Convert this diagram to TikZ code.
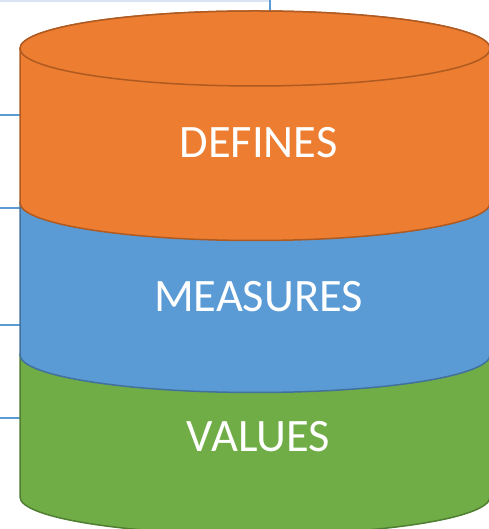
\documentclass[tikz,border=0pt]{standalone}
\usepackage{fontspec}
\setmainfont{Carlito}
\definecolor{segorange}{HTML}{ED7D31}
\definecolor{segorangeline}{HTML}{AE5A21}
\definecolor{segblue}{HTML}{5B9BD5}
\definecolor{segblueline}{HTML}{41719C}
\definecolor{seggreen}{HTML}{70AD47}
\definecolor{seggreenline}{HTML}{507E32}
\definecolor{gridline}{HTML}{5B9BD5}
\definecolor{gridpale}{HTML}{DAE3F3}
\tikzset{
    seglabel/.style={text=white, anchor=base, inner sep=0pt, font=\fontsize{46.5}{50}\selectfont},
    grid line/.style={gridline, line width=1.5pt},
    seg radii/.style={x radius=235pt, y radius=37.5pt},
}
\begin{document}
\begin{tikzpicture}[x=1pt, y=1pt]
    \useasboundingbox (0, 0) rectangle (488, 529);
    % table lines behind the stack
    \draw[gridpale, line width=1.5pt] (0, 528) -- (270, 528);
    \draw[grid line] (270, 529) -- (270, 517);
    \foreach \yy in {414, 321, 204, 111}
        \draw[grid line] (0, \yy) -- (20, \yy);
    % segments, bottom first
    \filldraw[fill=seggreen, draw=seggreenline, line width=1.5pt]
        (20, 174) -- (20, 32) arc[start angle=180, end angle=360, seg radii]
        -- (490, 174) arc[start angle=0, end angle=180, seg radii] -- cycle;
    \filldraw[fill=segblue, draw=segblueline, line width=1.5pt]
        (20, 326) -- (20, 174) arc[start angle=180, end angle=360, seg radii]
        -- (490, 326) arc[start angle=0, end angle=180, seg radii] -- cycle;
    \filldraw[fill=segorange, draw=segorangeline, line width=1.5pt]
        (20, 480.5) -- (20, 326) arc[start angle=180, end angle=360, seg radii]
        -- (490, 480.5) arc[start angle=0, end angle=180, seg radii] -- cycle;
    \filldraw[fill=segorange, draw=segorangeline, line width=1.5pt]
        (255, 480.5) ellipse[seg radii];
    % labels
    \node[seglabel] (defines) at (258.5, 371) {DEFINES};
    \node[seglabel] (measures) at (258.5, 217) {MEASURES};
    \node[seglabel] (values) at (258.5, 77) {VALUES};
\end{tikzpicture}
\end{document}
